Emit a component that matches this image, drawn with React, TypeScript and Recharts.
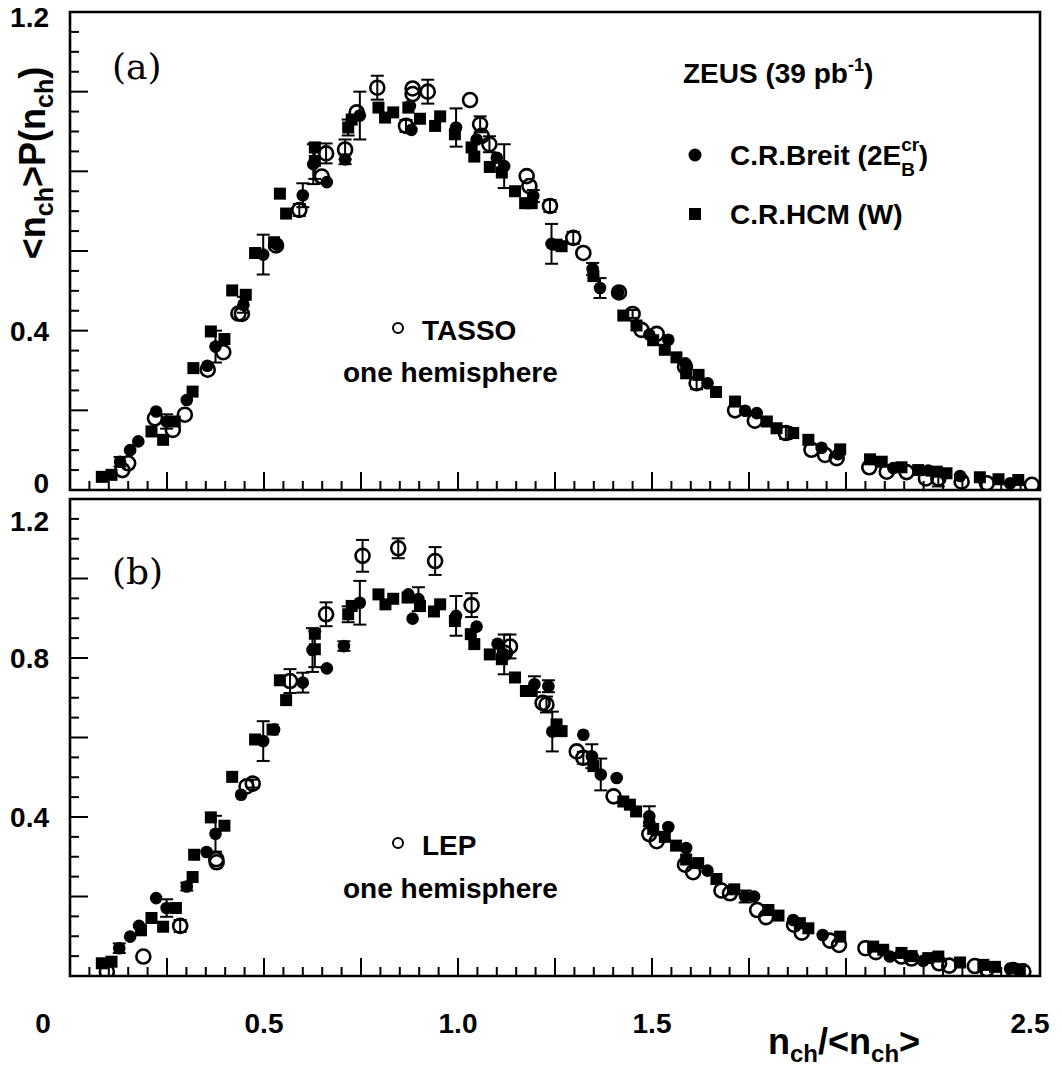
import React from "react";
import { ScatterChart, Scatter, XAxis, YAxis, ErrorBar, ReferenceArea } from "recharts";

// [x, y, error]; error 0 = no bar drawn
type Pt = [number, number, number];

const X_LABELS = [0, 0.5, 1.0, 1.5, 2.5];
const Y_LABELS_A = [0, 0.4, 1.2];
const Y_LABELS_B = [0.4, 0.8, 1.2];

// ---- panel (a): ZEUS vs TASSO ----
const breitA: Pt[] = [
  [0.129, 0.071, 0.012], [0.155, 0.1, 0], [0.176, 0.122, 0], [0.222, 0.197, 0],
  [0.249, 0.172, 0.018], [0.301, 0.226, 0], [0.354, 0.312, 0], [0.375, 0.36, 0.04],
  [0.447, 0.465, 0.02], [0.498, 0.591, 0.05], [0.533, 0.616, 0], [0.6, 0.74, 0.03],
  [0.627, 0.818, 0.05], [0.662, 0.773, 0], [0.709, 0.83, 0.012], [0.747, 0.94, 0.06],
  [0.876, 0.964, 0], [0.88, 0.904, 0], [0.995, 0.91, 0.048], [1.048, 0.88, 0],
  [1.1, 0.834, 0], [1.119, 0.813, 0.055], [1.194, 0.738, 0.015], [1.241, 0.618, 0.05],
  [1.347, 0.555, 0.015], [1.366, 0.507, 0.025], [1.413, 0.496, 0], [1.493, 0.39, 0],
  [1.542, 0.377, 0], [1.586, 0.318, 0], [1.643, 0.268, 0], [1.74, 0.199, 0],
  [1.77, 0.193, 0], [1.937, 0.106, 0], [1.98, 0.09, 0], [2.122, 0.055, 0],
  [2.212, 0.049, 0], [2.294, 0.035, 0], [2.423, 0.017, 0],
];

const hcmA: Pt[] = [
  [0.082, 0.033, 0], [0.107, 0.038, 0], [0.21, 0.147, 0], [0.24, 0.126, 0],
  [0.27, 0.172, 0], [0.316, 0.247, 0], [0.318, 0.306, 0], [0.363, 0.398, 0],
  [0.398, 0.379, 0], [0.418, 0.501, 0], [0.453, 0.49, 0], [0.477, 0.595, 0],
  [0.526, 0.622, 0], [0.541, 0.744, 0], [0.557, 0.694, 0], [0.631, 0.86, 0],
  [0.631, 0.826, 0.045], [0.717, 0.91, 0.02], [0.726, 0.93, 0], [0.795, 0.96, 0],
  [0.812, 0.935, 0], [0.833, 0.948, 0], [0.872, 0.96, 0], [0.902, 0.932, 0],
  [0.941, 0.914, 0], [0.954, 0.938, 0], [0.992, 0.893, 0], [1.035, 0.86, 0],
  [1.042, 0.837, 0], [1.082, 0.811, 0], [1.113, 0.797, 0], [1.147, 0.75, 0],
  [1.173, 0.72, 0], [1.19, 0.72, 0], [1.254, 0.616, 0], [1.267, 0.612, 0],
  [1.349, 0.537, 0], [1.426, 0.438, 0], [1.46, 0.413, 0], [1.503, 0.376, 0],
  [1.533, 0.352, 0], [1.563, 0.333, 0], [1.588, 0.293, 0], [1.62, 0.289, 0],
  [1.665, 0.246, 0], [1.714, 0.222, 0], [1.796, 0.172, 0], [1.821, 0.155, 0],
  [1.864, 0.143, 0], [1.903, 0.126, 0], [1.985, 0.102, 0], [2.062, 0.077, 0],
  [2.092, 0.071, 0], [2.143, 0.057, 0], [2.186, 0.05, 0], [2.234, 0.046, 0],
  [2.259, 0.042, 0], [2.345, 0.032, 0], [2.393, 0.027, 0], [2.444, 0.025, 0],
];

const tasso: Pt[] = [
  [0.135, 0.05, 0], [0.15, 0.067, 0], [0.219, 0.18, 0], [0.265, 0.151, 0],
  [0.296, 0.189, 0], [0.355, 0.302, 0], [0.395, 0.346, 0], [0.434, 0.443, 0],
  [0.443, 0.442, 0], [0.531, 0.614, 0], [0.591, 0.703, 0.015], [0.649, 0.787, 0],
  [0.66, 0.845, 0.025], [0.709, 0.855, 0.025], [0.739, 0.948, 0], [0.792, 1.01, 0.03],
  [0.866, 0.914, 0.015], [0.883, 1.008, 0], [0.883, 0.994, 0], [0.922, 1.0, 0.03],
  [1.031, 0.979, 0], [1.057, 0.918, 0.02], [1.061, 0.889, 0], [1.081, 0.868, 0.02],
  [1.177, 0.788, 0], [1.184, 0.763, 0], [1.237, 0.713, 0.015], [1.297, 0.633, 0.015],
  [1.323, 0.595, 0], [1.415, 0.496, 0], [1.45, 0.442, 0.01], [1.473, 0.402, 0],
  [1.512, 0.392, 0], [1.585, 0.31, 0], [1.615, 0.268, 0.015], [1.714, 0.2, 0],
  [1.765, 0.174, 0], [1.845, 0.143, 0.015], [1.911, 0.101, 0], [1.946, 0.088, 0],
  [1.976, 0.08, 0], [2.06, 0.057, 0], [2.105, 0.046, 0], [2.156, 0.045, 0],
  [2.206, 0.029, 0], [2.238, 0.029, 0.02], [2.298, 0.021, 0], [2.363, 0.017, 0],
  [2.479, 0.013, 0],
];

// ---- panel (b): ZEUS vs LEP ----
const breitB: Pt[] = [
  [0.127, 0.07, 0.012], [0.155, 0.099, 0], [0.178, 0.126, 0], [0.222, 0.196, 0],
  [0.249, 0.171, 0.022], [0.301, 0.225, 0.01], [0.352, 0.312, 0], [0.375, 0.358, 0.045],
  [0.441, 0.456, 0], [0.498, 0.591, 0.05], [0.526, 0.62, 0], [0.6, 0.738, 0.025],
  [0.625, 0.82, 0.055], [0.662, 0.774, 0], [0.706, 0.83, 0.012], [0.747, 0.939, 0.055],
  [0.872, 0.96, 0], [0.883, 0.899, 0], [0.898, 0.948, 0.03], [0.995, 0.906, 0.05],
  [1.048, 0.879, 0], [1.102, 0.836, 0], [1.119, 0.809, 0.05], [1.197, 0.734, 0.02],
  [1.233, 0.729, 0.015], [1.243, 0.615, 0.05], [1.323, 0.607, 0], [1.345, 0.553, 0.03],
  [1.368, 0.507, 0.04], [1.409, 0.498, 0], [1.493, 0.402, 0.025], [1.493, 0.385, 0],
  [1.542, 0.375, 0], [1.588, 0.322, 0], [1.643, 0.265, 0], [1.74, 0.2, 0.015],
  [1.763, 0.2, 0], [1.864, 0.141, 0], [1.94, 0.103, 0], [2.113, 0.049, 0],
  [2.199, 0.038, 0], [2.423, 0.019, 0],
];

const hcmB: Pt[] = [
  [0.082, 0.032, 0], [0.107, 0.036, 0], [0.183, 0.115, 0], [0.21, 0.146, 0],
  [0.24, 0.124, 0], [0.273, 0.171, 0], [0.316, 0.249, 0], [0.32, 0.305, 0],
  [0.363, 0.399, 0], [0.398, 0.378, 0], [0.418, 0.501, 0], [0.477, 0.595, 0],
  [0.522, 0.62, 0], [0.541, 0.744, 0], [0.557, 0.694, 0], [0.631, 0.861, 0],
  [0.631, 0.822, 0.045], [0.717, 0.91, 0.02], [0.726, 0.931, 0], [0.795, 0.96, 0],
  [0.813, 0.935, 0], [0.833, 0.949, 0], [0.87, 0.952, 0], [0.902, 0.931, 0],
  [0.938, 0.917, 0], [0.954, 0.935, 0], [0.992, 0.893, 0], [1.033, 0.86, 0],
  [1.042, 0.835, 0], [1.082, 0.809, 0], [1.113, 0.797, 0], [1.147, 0.751, 0],
  [1.175, 0.717, 0], [1.19, 0.717, 0], [1.254, 0.633, 0], [1.267, 0.616, 0],
  [1.349, 0.528, 0], [1.426, 0.439, 0], [1.443, 0.431, 0], [1.459, 0.414, 0],
  [1.503, 0.37, 0], [1.533, 0.35, 0], [1.562, 0.328, 0], [1.588, 0.293, 0],
  [1.619, 0.284, 0], [1.666, 0.244, 0], [1.712, 0.218, 0], [1.8, 0.166, 0],
  [1.826, 0.152, 0], [1.881, 0.133, 0], [1.903, 0.12, 0], [1.985, 0.099, 0],
  [2.07, 0.074, 0], [2.096, 0.066, 0], [2.143, 0.058, 0], [2.169, 0.05, 0],
  [2.212, 0.045, 0], [2.238, 0.049, 0], [2.294, 0.034, 0], [2.354, 0.028, 0],
  [2.384, 0.023, 0], [2.448, 0.017, 0],
];

const lep: Pt[] = [
  [0.095, 0.011, 0], [0.189, 0.049, 0], [0.284, 0.126, 0.015], [0.377, 0.294, 0],
  [0.378, 0.286, 0], [0.455, 0.477, 0], [0.471, 0.484, 0.01], [0.567, 0.742, 0.03],
  [0.66, 0.91, 0.03], [0.754, 1.057, 0.04], [0.846, 1.076, 0.025], [0.941, 1.044, 0.035],
  [1.035, 0.933, 0.03], [1.121, 0.813, 0], [1.134, 0.829, 0.03], [1.218, 0.687, 0],
  [1.228, 0.683, 0.02], [1.306, 0.565, 0], [1.323, 0.549, 0.015], [1.401, 0.452, 0],
  [1.493, 0.357, 0], [1.512, 0.339, 0], [1.585, 0.28, 0], [1.606, 0.261, 0],
  [1.679, 0.215, 0], [1.701, 0.208, 0], [1.771, 0.166, 0], [1.794, 0.148, 0],
  [1.866, 0.129, 0], [1.886, 0.109, 0], [1.959, 0.089, 0], [1.982, 0.078, 0],
  [2.05, 0.07, 0], [2.077, 0.06, 0], [2.143, 0.049, 0], [2.169, 0.044, 0],
  [2.24, 0.032, 0], [2.266, 0.026, 0], [2.332, 0.025, 0], [2.363, 0.017, 0],
  [2.431, 0.015, 0], [2.457, 0.011, 0],
];

// minor tick positions every 0.05
const steps = (max: number, step: number) =>
  Array.from({ length: Math.round(max / step) + 1 }, (_, i) => +(i * step).toFixed(2));
const X_TICKS = steps(2.5, 0.05);
const Y_TICKS = steps(1.2, 0.05);

const FONT = "'Liberation Sans', Arial, Helvetica, sans-serif";
const TXT: React.CSSProperties = { fontFamily: FONT, fontWeight: 700, fontSize: 28, fill: "#000" };
const fmt = (v: number) => (v === 0 ? "0" : v.toFixed(1));
const near = (list: number[], v: number) => list.some((l) => Math.abs(l - v) < 1e-6);

// label nudges, as in the original figure
const X_SHIFT: Record<string, number> = { "0": -27, "2.5": -10 };

const rows = (pts: Pt[]) => pts.map(([x, y, err]) => ({ x, y, err }));

const dot = (p: any) => <circle cx={p.cx} cy={p.cy} r={6.3} fill="#000" />;
const square = (p: any) => <rect x={p.cx - 6} y={p.cy - 6} width={12} height={12} fill="#000" />;
const ring = (p: any) => (
  <circle cx={p.cx} cy={p.cy} r={7} fill="none" stroke="#000" strokeWidth={2.6} />
);

const xTick = (withLabels: boolean) => (p: any) => {
  const v = p.payload.value;
  const major = Math.round(v * 100) % 25 === 0;
  const lbl = withLabels && near(X_LABELS, v);
  return (
    <g>
      <line x1={p.x} x2={p.x} y1={p.y} y2={p.y - (major ? 18 : 9)} stroke="#000" strokeWidth={2} />
      {lbl && (
        <text x={p.x + (X_SHIFT[fmt(v)] ?? 0)} y={p.y + 57} textAnchor="middle" style={TXT}>
          {fmt(v)}
        </text>
      )}
    </g>
  );
};

const yTick = (labels: number[], shift: Record<string, number>) => (p: any) => {
  const v = p.payload.value;
  const major = Math.round(v * 100) % 20 === 0;
  return (
    <g>
      <line x1={p.x} x2={p.x + (major ? 18 : 9)} y1={p.y} y2={p.y} stroke="#000" strokeWidth={2} />
      {near(labels, v) && (
        <text x={p.x - 21} y={p.y + 10 + (shift[fmt(v)] ?? 0)} textAnchor="end" style={TXT}>
          {fmt(v)}
        </text>
      )}
    </g>
  );
};

const Panel: React.FC<{
  top: number;
  height: number;
  axisHeight: number;
  breit: Pt[];
  hcm: Pt[];
  other: Pt[];
  yLabels: number[];
  yShift: Record<string, number>;
  xLabels: boolean;
}> = ({ top, height, axisHeight, breit, hcm, other, yLabels, yShift, xLabels }) => (
  <div style={{ position: "absolute", left: 0, top }}>
    <ScatterChart width={1062} height={height} margin={{ top: 12, right: 22, bottom: 0, left: 0 }}>
      <XAxis
        type="number"
        dataKey="x"
        domain={[0, 2.5]}
        ticks={X_TICKS}
        interval={0}
        height={axisHeight}
        tickSize={0}
        tickMargin={0}
        axisLine={false}
        tickLine={false}
        tick={xTick(xLabels)}
        allowDataOverflow
      />
      <YAxis
        type="number"
        dataKey="y"
        domain={[0, 1.2]}
        ticks={Y_TICKS}
        interval={0}
        width={70}
        tickSize={0}
        tickMargin={0}
        axisLine={false}
        tickLine={false}
        tick={yTick(yLabels, yShift)}
        allowDataOverflow
      />
      <ReferenceArea x1={0} x2={2.5} y1={0} y2={1.2} fill="none" stroke="#000" strokeWidth={2.6} />
      <Scatter data={rows(hcm)} shape={square} isAnimationActive={false}>
        <ErrorBar dataKey="err" direction="y" width={6.5} stroke="#000" strokeWidth={2} isAnimationActive={false} />
      </Scatter>
      <Scatter data={rows(breit)} shape={dot} isAnimationActive={false}>
        <ErrorBar dataKey="err" direction="y" width={6.5} stroke="#000" strokeWidth={2} isAnimationActive={false} />
      </Scatter>
      <Scatter data={rows(other)} shape={ring} isAnimationActive={false}>
        <ErrorBar dataKey="err" direction="y" width={6.5} stroke="#000" strokeWidth={2} isAnimationActive={false} />
      </Scatter>
    </ScatterChart>
  </div>
);

const SERIF = { fontFamily: "'DejaVu Serif', serif", fontSize: 36, fill: "#000" };

export default function App() {
  return (
    <div style={{ position: "absolute", left: 0, top: 0, width: 1062, height: 1074, background: "#fff" }}>
      <Panel
        top={0}
        height={500}
        axisHeight={10}
        breit={breitA}
        hcm={hcmA}
        other={tasso}
        yLabels={Y_LABELS_A}
        yShift={{ "1.2": 5, "0": -7 }}
        xLabels={false}
      />
      <Panel
        top={487}
        height={587}
        axisHeight={98}
        breit={breitB}
        hcm={hcmB}
        other={lep}
        yLabels={Y_LABELS_B}
        yShift={{ "1.2": 22 }}
        xLabels
      />
      <svg
        width={1062}
        height={1074}
        style={{ position: "absolute", left: 0, top: 0, pointerEvents: "none" }}
      >
        <text x={112} y={79} style={SERIF}>(a)</text>
        <text x={112} y={584} style={SERIF}>(b)</text>

        <text x={683} y={83} style={TXT}>
          ZEUS (39 pb<tspan dy={-12} fontSize={18}>-1</tspan>
          <tspan dy={12}>)</tspan>
        </text>
        <circle cx={695} cy={155} r={6.5} fill="#000" />
        <text x={730} y={165} style={TXT}>
          C.R.Breit (2E<tspan dy={-14} fontSize={19}>cr</tspan>
          <tspan dx={-18} dy={25} fontSize={19}>B</tspan>
          <tspan dx={4} dy={-11}>)</tspan>
        </text>
        <rect x={689} y={208} width={12} height={12} fill="#000" />
        <text x={730} y={224} style={TXT}>C.R.HCM (W)</text>

        <circle cx={398} cy={328} r={5} fill="none" stroke="#000" strokeWidth={2} />
        <text x={422} y={340} style={TXT}>TASSO</text>
        <text x={343} y={382} style={TXT}>one hemisphere</text>

        <circle cx={398} cy={843} r={5} fill="none" stroke="#000" strokeWidth={2} />
        <text x={422} y={855} style={TXT}>LEP</text>
        <text x={343} y={898} style={TXT}>one hemisphere</text>

        <text x={768} y={1054} style={{ ...TXT, fontSize: 36 }}>
          n<tspan dy={8} fontSize={24}>ch</tspan>
          <tspan dy={-8}>/&lt;n</tspan>
          <tspan dy={8} fontSize={24}>ch</tspan>
          <tspan dy={-8}>&gt;</tspan>
        </text>

        <text
          x={45}
          y={163}
          textAnchor="middle"
          transform="rotate(-90 45 163)"
          style={{ ...TXT, fontSize: 36 }}
        >
          &lt;n<tspan dy={8} fontSize={25}>ch</tspan>
          <tspan dy={-8}>&gt;P(n</tspan>
          <tspan dy={8} fontSize={25}>ch</tspan>
          <tspan dy={-8}>)</tspan>
        </text>
      </svg>
    </div>
  );
}
